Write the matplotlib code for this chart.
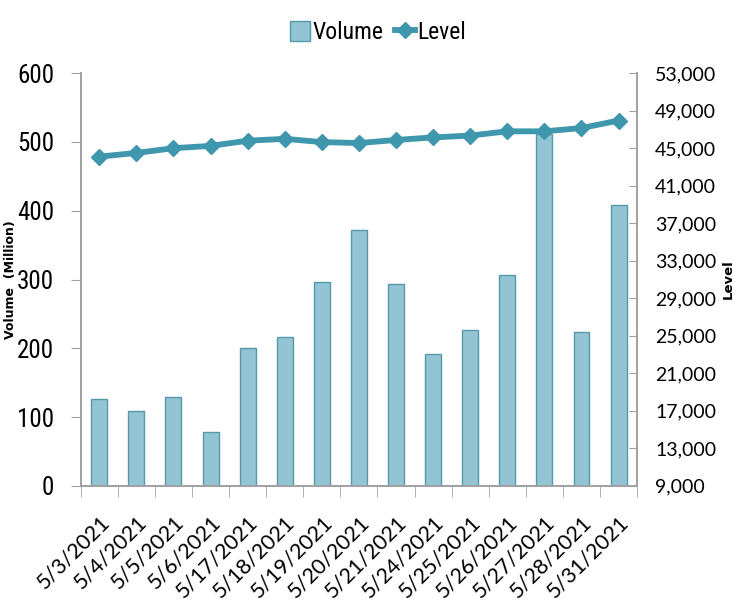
import matplotlib.pyplot as plt
import matplotlib.ticker as mticker
from matplotlib.lines import Line2D
from matplotlib.patches import Patch
from matplotlib import font_manager
import numpy as np

dates = ['5/3/2021', '5/4/2021', '5/5/2021', '5/6/2021', '5/17/2021', '5/18/2021',
         '5/19/2021', '5/20/2021', '5/21/2021', '5/24/2021', '5/25/2021', '5/26/2021',
         '5/27/2021', '5/28/2021', '5/31/2021']
volume = [126, 109, 129, 78, 201, 216, 297, 372, 294, 191, 226, 307, 512, 224, 409]
level = [44100, 44500, 45000, 45250, 45800, 46000, 45650, 45550, 45880,
         46150, 46350, 46800, 46800, 47150, 47950]

# look for a narrow face for the condensed labels
cands = []
for f in font_manager.fontManager.ttflist:
    nm = f.name.lower()
    fn = f.fname.lower()
    if f.style != 'normal' or f.weight not in (400, 'normal', 'regular'):
        continue
    if 'narrow' in nm or 'condensed' in nm or 'condensed' in fn or 'narrow' in fn \
            or str(f.stretch) in ('condensed', 'semi-condensed', 'extra-condensed'):
        cands.append(f)
narrow_fp = None
for key in ['liberationsansnarrow', 'robotocondensed', 'opensans_condensed', 'opensanscondensed',
            'notosanscondensed', 'dejavusanscondensed', '']:
    for f in cands:
        base = f.fname.lower().replace('-', '').replace(' ', '').split('/')[-1]
        if key in base:
            narrow_fp = f.fname
            break
    if narrow_fp:
        break

def nprop(size):
    if narrow_fp:
        return font_manager.FontProperties(fname=narrow_fp, size=size)
    return font_manager.FontProperties(family='DejaVu Sans', size=size * 0.85)

bar_fill = '#93C4D4'
bar_edge = '#5598AC'
line_col = '#3F97AE'
spine_col = '#A0A0A0'

fig = plt.figure(figsize=(7.34, 6.15), dpi=100)
ax = fig.add_axes([0.110, 0.210, 0.758, 0.671])
ax2 = ax.twinx()

x = np.arange(len(dates))
ax.bar(x, volume, width=0.43, color=bar_fill, edgecolor=bar_edge, linewidth=1, zorder=2)
ax2.plot(x, level, color=line_col, linewidth=4.2, marker='D', markersize=8,
         markeredgecolor=line_col, zorder=3)

ax.set_xlim(-0.5, len(dates) - 0.5)
ax.set_ylim(0, 600)
ax.set_yticks(range(0, 601, 100))
ax2.set_ylim(9000, 53000)
ax2.set_yticks(range(9000, 53001, 4000))
ax2.yaxis.set_major_formatter(mticker.FuncFormatter(lambda v, p: f'{int(v):,}'))

ax.set_xticks(x)
ax.set_xticklabels(dates, rotation=45, ha='right', rotation_mode='anchor',
                   fontsize=15.5, family='Lato')
ax.set_xticks(np.arange(-0.5, len(dates), 1), minor=True)
ax.tick_params(axis='x', which='major', length=0, pad=19)
ax.tick_params(axis='x', which='minor', length=8, color=spine_col)
ax.tick_params(axis='y', length=7, color=spine_col, pad=12)
ax2.tick_params(axis='y', direction='in', length=6, color=spine_col, labelsize=14, pad=13)
for lab in ax.get_yticklabels():
    lab.set_fontproperties(nprop(18))
for lab in ax2.get_yticklabels():
    lab.set_family('Lato')

for a in (ax, ax2):
    a.spines['top'].set_visible(False)
    for s in ('left', 'right', 'bottom'):
        a.spines[s].set_color(spine_col)
        a.spines[s].set_linewidth(1.2)

ax.set_ylabel('Volume  (Million)', fontsize=9, fontweight='bold')
ax.yaxis.set_label_coords(-0.115, 0.5)
ax2.set_ylabel('Level', fontsize=9.5, fontweight='bold', rotation=90, labelpad=4)

handles = [Patch(facecolor=bar_fill, edgecolor=bar_edge, label='Volume'),
           Line2D([0], [0], color=line_col, linewidth=4.2, marker='D', markersize=8, label='Level')]
fig.legend(handles=handles, loc='upper center', bbox_to_anchor=(0.515, 1.0), ncol=2,
           frameon=False, prop=nprop(17), handlelength=0.85, handleheight=0.9,
           handletextpad=0.1, columnspacing=0.5)

fig.savefig('out.png', dpi=100)
